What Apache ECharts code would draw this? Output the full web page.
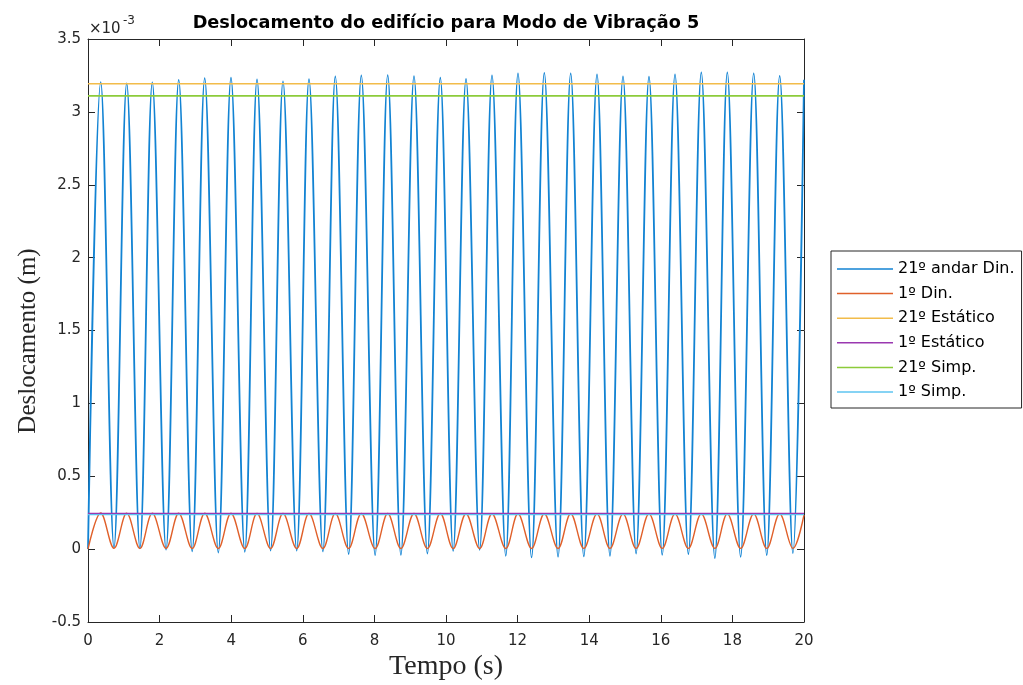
<!DOCTYPE html>
<html>
<head>
<meta charset="utf-8">
<script src="https://cdn.jsdelivr.net/npm/echarts@6/dist/echarts.min.js"></script>
<style>
  html, body { margin: 0; padding: 0; background: #fff; }
  #chart { width: 1023px; height: 685px; }
</style>
</head>
<body>
<div id="chart"></div>
<script>
// Displacement values are in units of 1e-3 m (axis multiplier shown as ×10^-3)
const xTicks = [0, 2, 4, 6, 8, 10, 12, 14, 16, 18, 20];
const yTicks = [-0.5, 0, 0.5, 1, 1.5, 2, 2.5, 3, 3.5];

const seriesNames = ['21º andar Din.', '1º Din.', '21º Estático', '1º Estático', '21º Simp.', '1º Simp.'];

// Times (s) of the response maxima and minima
const peakTimes = [0.355, 1.081, 1.796, 2.534, 3.260, 3.994, 4.721, 5.447, 6.173, 6.908,
  7.634, 8.372, 9.106, 9.841, 10.559, 11.285, 12.011, 12.746, 13.483, 14.218,
  14.944, 15.670, 16.397, 17.131, 17.858, 18.595, 19.321];
const troughTimes = [0.726, 1.45, 2.18, 2.91, 3.64, 4.38, 5.10, 5.83, 6.56, 7.28,
  8.02, 8.74, 9.48, 10.20, 10.94, 11.67, 12.39, 13.13, 13.85, 14.58,
  15.31, 16.04, 16.77, 17.51, 18.23, 18.96, 19.69];
const startTime = 0;
const endTime = 20;

// 21st floor, dynamic response
const topPeaks = [3.204, 3.195, 3.202, 3.220, 3.232, 3.234, 3.223, 3.209, 3.225, 3.243,
  3.250, 3.252, 3.245, 3.234, 3.227, 3.250, 3.264, 3.268, 3.264, 3.257,
  3.243, 3.241, 3.257, 3.271, 3.271, 3.264, 3.247];
const topTroughs = [0.010, 0.006, -0.004, -0.015, -0.024, -0.018, -0.010, -0.010, -0.016, -0.034,
  -0.041, -0.039, -0.030, -0.012, -0.005, -0.046, -0.057, -0.053, -0.050, -0.046,
  -0.030, -0.039, -0.034, -0.062, -0.053, -0.041, -0.027];
const topStart = 0;
const topEnd = 3.22;

// 1st floor, dynamic response
const firstPeaks = [0.248, 0.247, 0.247, 0.246, 0.246, 0.246, 0.245, 0.245, 0.245, 0.245,
  0.244, 0.244, 0.244, 0.244, 0.243, 0.243, 0.243, 0.243, 0.243, 0.242,
  0.242, 0.242, 0.242, 0.242, 0.242, 0.242, 0.242];
const firstTroughs = [0.006, 0.005, 0.005, 0.004, 0.004, 0.004, 0.004, 0.004, 0.004, 0.004,
  0.004, 0.004, 0.004, 0.004, 0.004, 0.004, 0.004, 0.004, 0.005, 0.005,
  0.005, 0.005, 0.005, 0.005, 0.005, 0.005, 0.005];
const firstStart = 0;
const firstEnd = 0.235;

// Static and simplified displacement levels
const topStatic = 3.193;
const firstStatic = 0.2436;
const topSimplified = 3.11;
const firstSimplified = 0.2367;

const colors = ['#1283d3', '#E0602A', '#F2BC4A', '#9A38B0', '#8CCB3A', '#5EC4F0'];
const widths = [1.8, 1.4, 1.6, 1.6, 1.6, 1.1];

function oscillation(start, peaks, troughs, end) {
  const pts = [[startTime, start]];
  for (let i = 0; i < peakTimes.length; i++) {
    pts.push([peakTimes[i], peaks[i]]);
    pts.push([troughTimes[i], troughs[i]]);
  }
  pts.push([endTime, end]);
  return pts;
}
function level(v) {
  return [[startTime, v], [endTime, v]];
}

const seriesData = [
  oscillation(topStart, topPeaks, topTroughs, topEnd),
  oscillation(firstStart, firstPeaks, firstTroughs, firstEnd),
  level(topStatic),
  level(firstStatic),
  level(topSimplified),
  level(firstSimplified)
];

const axisColor = '#262626';
const sans = '"DejaVu Sans", Verdana, sans-serif';
const serif = '"Liberation Serif", "Times New Roman", serif';

const G = { left: 88, top: 39, right: 804, bottom: 622 };

function xAxisDef(pos, labels) {
  return {
    type: 'value', position: pos,
    min: xTicks[0], max: xTicks[xTicks.length - 1], interval: xTicks[1] - xTicks[0],
    axisLine: { show: true, onZero: false, lineStyle: { color: axisColor, width: 1 } },
    axisTick: { show: true, inside: true, length: 7, lineStyle: { color: axisColor } },
    axisLabel: { show: labels, color: axisColor, fontFamily: sans, fontSize: 15, margin: 12 },
    splitLine: { show: false }
  };
}
function yAxisDef(pos, labels) {
  return {
    type: 'value', position: pos,
    min: yTicks[0], max: yTicks[yTicks.length - 1], interval: yTicks[1] - yTicks[0],
    axisLine: { show: true, onZero: false, lineStyle: { color: axisColor, width: 1 } },
    axisTick: { show: true, inside: true, length: 7, lineStyle: { color: axisColor } },
    axisLabel: { show: labels, color: axisColor, fontFamily: sans, fontSize: 15, margin: 7 },
    splitLine: { show: false }
  };
}

const chart = echarts.init(document.getElementById('chart'), null, { renderer: 'canvas' });

const option = {
  backgroundColor: '#ffffff',
  animation: false,
  grid: { left: G.left, top: G.top, right: 1023 - G.right, bottom: 685 - G.bottom, containLabel: false },
  xAxis: [xAxisDef('bottom', true), xAxisDef('top', false)],
  yAxis: [yAxisDef('left', true), yAxisDef('right', false)],
  legend: {
    orient: 'vertical',
    left: 831, top: 251,
    padding: [9, 7, 7, 6],
    itemGap: 6.6,
    icon: 'rect',
    itemWidth: 56,
    itemHeight: 1.5,
    itemSymbolGap: 5,
    borderColor: axisColor,
    borderWidth: 1,
    backgroundColor: '#fff',
    textStyle: { fontFamily: sans, fontSize: 16, color: '#000', lineHeight: 18 },
    data: seriesNames
  },
  series: seriesNames.map((name, i) => ({
    name: name,
    type: 'line',
    xAxisIndex: 0, yAxisIndex: 0,
    data: seriesData[i],
    symbol: 'none',
    smooth: i < 2 ? 0.36 : false,
    clip: true,
    color: colors[i],
    lineStyle: { color: colors[i], width: widths[i] }
  })),
  graphic: [
    {
      type: 'text', x: (G.left + G.right) / 2, y: 23,
      style: {
        text: 'Deslocamento do edifício para Modo de Vibração 5',
        font: 'bold 17.7px ' + sans, fill: '#000',
        textAlign: 'center', textVerticalAlign: 'middle', align: 'center', verticalAlign: 'middle'
      }
    },
    {
      type: 'text', x: 89, y: 29,
      style: {
        text: '×10', font: '15px ' + sans, fill: axisColor,
        textAlign: 'left', textVerticalAlign: 'middle', align: 'left', verticalAlign: 'middle'
      }
    },
    {
      type: 'text', x: 123, y: 21,
      style: {
        text: '-3', font: '12px ' + sans, fill: axisColor,
        textAlign: 'left', textVerticalAlign: 'middle', align: 'left', verticalAlign: 'middle'
      }
    },
    {
      type: 'text', x: (G.left + G.right) / 2, y: 667,
      style: {
        text: 'Tempo (s)', font: '28px ' + serif, fill: axisColor,
        textAlign: 'center', textVerticalAlign: 'middle', align: 'center', verticalAlign: 'middle'
      }
    },
    {
      type: 'text', x: 28, y: 341, rotation: Math.PI / 2,
      style: {
        text: 'Deslocamento (m)', font: '25px ' + serif, fill: axisColor,
        textAlign: 'center', textVerticalAlign: 'middle', align: 'center', verticalAlign: 'middle'
      }
    }
  ]
};

chart.setOption(option);
</script>
</body>
</html>
